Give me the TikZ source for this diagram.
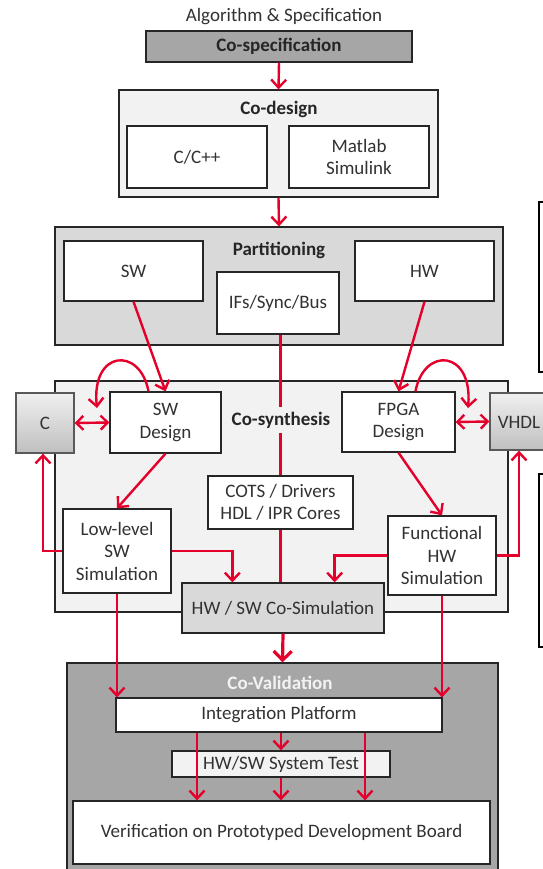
\documentclass[tikz,border=0pt]{standalone}
\usepackage{fontspec}
\setmainfont{Carlito}
\usetikzlibrary{arrows.meta}
\definecolor{rd}{RGB}{228,0,43}
\definecolor{txt}{RGB}{50,50,50}
\definecolor{bord}{RGB}{38,38,38}
\definecolor{gA}{RGB}{166,166,166}
\definecolor{gD}{RGB}{217,217,217}
\definecolor{gF}{RGB}{242,242,242}
\tikzset{
  box/.style={draw=bord, line width=1.3pt, fill=white, inner sep=0pt, align=center,
    text=txt, font=\fontsize{19}{22.5}\selectfont},
  ttl/.style={inner sep=1pt, text=bord, font=\fontsize{19}{22.5}\selectfont\bfseries},
  rar/.style={draw=rd, line width=2.4pt, -{Straight Barb[length=8pt,width=15pt,line width=2.4pt]}},
  rdd/.style={draw=rd, line width=2.4pt, {Straight Barb[length=7pt,width=14pt,line width=2.4pt]}-{Straight Barb[length=7pt,width=14pt,line width=2.4pt]}},
  rthk/.style={draw=rd, line width=3.2pt},
  rthka/.style={draw=rd, line width=3.2pt, -{Straight Barb[length=9pt,width=18pt,line width=3.2pt]}},
  gradbox/.style={box, top color=gray!12, bottom color=gray!50, draw=gray!70!black}
}
\begin{document}
\begin{tikzpicture}[x=1pt,y=-1pt]
\useasboundingbox (0,0) rectangle (542,869);
\fill[white] (0,0) rectangle (542,869);
% right edge fragments
\draw[black, line width=2pt] (560,202) -- (539,202) -- (539,372) -- (560,372);
\draw[black, line width=2pt] (560,474) -- (539,474) -- (539,647) -- (560,647);

\node[text=txt, font=\fontsize{19}{22.5}\selectfont] (alg) at (284,17) {Algorithm \& Specification};
\node[box, fill=gA, minimum width=266pt, minimum height=31pt, font=\fontsize{19}{22.5}\selectfont\bfseries, text=bord] (cospec) at (279,46.5) {Co-specification};

% Co-design
\node[box, fill=gF, minimum width=319pt, minimum height=107pt] (codesign) at (278.5,143.5) {};
\node[ttl] (codesignT) at (279,109) {Co-design};
\node[box, minimum width=140pt, minimum height=62pt] (cc) at (197,157) {C/C++};
\node[box, minimum width=140pt, minimum height=62pt] (matlab) at (359,157) {Matlab\\Simulink};

% Partitioning
\node[box, fill=gD, minimum width=448pt, minimum height=118pt] (part) at (279,286) {};
\node[ttl] (partT) at (279,250) {Partitioning};
\node[box, minimum width=139pt, minimum height=60pt] (sw) at (133.5,271) {SW};
\node[box, minimum width=122pt, minimum height=62pt] (ifs) at (278,303) {IFs/Sync/Bus};
\node[box, minimum width=139pt, minimum height=60pt] (hw) at (424.5,271) {HW};

% Co-synthesis
\node[box, fill=gF, minimum width=453pt, minimum height=231pt] (cosyn) at (281.5,496.5) {};
\node[gradbox, minimum width=58pt, minimum height=60pt] (C) at (45,423) {C};
\node[gradbox, minimum width=70pt, minimum height=57pt] (vhdl) at (525,421.5) {};
\node[text=txt, font=\fontsize{19}{22.5}\selectfont, inner sep=0pt] (vhdlT) at (519,422) {VHDL};
\node[box, minimum width=111pt, minimum height=61pt] (swd) at (165.5,422.5) {SW\\Design};
\node[box, minimum width=113pt, minimum height=60pt] (fpga) at (398.5,422) {FPGA\\Design};
\node[box, minimum width=145pt, minimum height=53pt] (cots) at (280.5,502.5) {COTS / Drivers\\HDL / IPR Cores};
\node[box, minimum width=108pt, minimum height=84pt] (llsw) at (117,551) {Low-level\\SW\\Simulation};
\node[box, minimum width=108pt, minimum height=79pt] (func) at (442,555.5) {Functional\\HW\\Simulation};
\node[box, fill=gD, minimum width=202pt, minimum height=50pt] (cosim) at (283,608) {HW / SW Co-Simulation};

% central line
\draw[rthk] (ifs.south -| cots.north) -- (cots.north);
\node[ttl, fill=gF, inner ysep=5pt] (cosynT) at (281,420) {Co-synthesis};
\draw[rthk] (cots.south) -- (cots.south |- cosim.north);

% Co-Validation
\node[box, fill=gA, minimum width=431pt, minimum height=217pt] (coval) at (282.5,771.5) {};
\node[ttl, text=gF] (covalT) at (280,683) {Co-Validation};
\node[box, minimum width=326pt, minimum height=34pt] (integ) at (279,715) {Integration Platform};
\node[box, fill=gF, minimum width=218pt, minimum height=26pt] (systest) at (281,764) {HW/SW System Test};
\node[box, minimum width=417pt, minimum height=63pt] (verif) at (281.5,832.5) {Verification on Prototyped Development Board};

% arrows top
\draw[rar] (cospec.south) -- (codesign.north);
\draw[rar] (codesign.south) -- (part.north);
\draw[rar] (sw.south) -- (swd.north);
\draw[rar] (hw.south) -- (fpga.north);

% loops
\coordinate (loopL) at (97,408);
\coordinate (loopR) at (468,408);
\draw[rar] ([xshift=-17pt]swd.north) .. controls (140,346) and (91,350) .. (loopL);
\draw[rar] ([xshift=17pt]fpga.north) .. controls (424,346) and (473,350) .. (loopR);

% double arrows
\draw[rdd] (C.east) -- (swd.west);
\draw[rdd] (fpga.east) -- (vhdl.west);

% co-synthesis internals
\draw[rar] (swd.south) -- (llsw.north);
\draw[rar] (fpga.south) -- (func.north);
\draw[rar] (llsw.west) -| ([xshift=-2pt]C.south);
\draw[rar] (llsw.east) -| ([xshift=51pt]cosim.north west);
\draw[rar] (func.west) -| ([xshift=-50pt]cosim.north east);
\draw[rar] (func.east) -| ([xshift=-6pt]vhdl.south);

% to co-validation
\draw[rthka] (cosim.south) -- (coval.north);
\draw[rar] (llsw.south) -- (llsw.south |- integ.north);
\draw[rar] (func.south) -- (func.south |- integ.north);

% inside co-validation
\draw[rar] ([xshift=-82pt]integ.south) -- ([xshift=-82pt]integ.south |- verif.north);
\draw[rar] (integ.south -| systest.north) -- (systest.north);
\draw[rar] (systest.south) -- (systest.south |- verif.north);
\draw[rar] ([xshift=86pt]integ.south) -- ([xshift=86pt]integ.south |- verif.north);
\end{tikzpicture}
\end{document}
